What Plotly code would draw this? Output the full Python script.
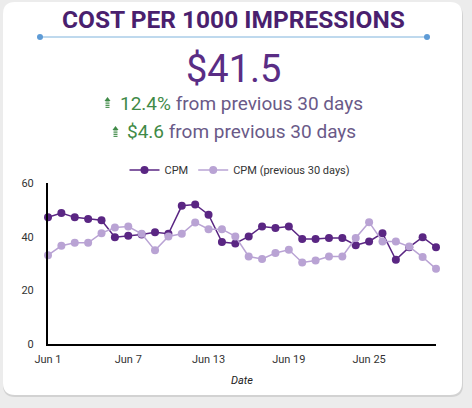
import plotly.graph_objects as go

W, H = 472, 408

# data
dates = [f"2024-06-{d:02d}" for d in range(1, 31)]
cpm = [47.2, 48.8, 47.2, 46.6, 46.1, 39.8, 40.3, 40.8, 41.6, 41.1,
       51.5, 52.0, 48.2, 38.0, 37.5, 40.1, 43.8, 43.2, 43.8, 39.1,
       39.1, 39.5, 39.5, 36.8, 38.2, 41.3, 31.4, 36.1, 39.8, 36.1]
cpm_prev = [33.1, 36.6, 37.7, 37.7, 41.3, 43.4, 43.8, 41.1, 34.9, 40.1,
            41.1, 45.3, 42.8, 42.8, 40.1, 32.6, 31.7, 33.9, 35.1, 30.4,
            31.1, 32.6, 32.6, 39.5, 45.4, 38.2, 38.2, 36.3, 32.4, 28.0]
tick_dates = dates[::6]

title = "COST PER 1000 IMPRESSIONS"
kpi = "$41.5"
pct_change = "12.4%"
abs_change = "$4.6"

DARK = "#5a2683"
LIGHT = "#b9a3d4"
GREEN = "#3f8a47"
GREYPURPLE = "#6a5a88"
FONT = "Roboto"


def px(x):
    return x / W


def py(y):
    return 1 - y / H


def rounded(x0, y0, x1, y1, r=12):
    # rounded rectangle path, pixel coords -> paper coords
    return (f"M {px(x0 + r)},{py(y0)} L {px(x1 - r)},{py(y0)} "
            f"Q {px(x1)},{py(y0)} {px(x1)},{py(y0 + r)} "
            f"L {px(x1)},{py(y1 - r)} Q {px(x1)},{py(y1)} {px(x1 - r)},{py(y1)} "
            f"L {px(x0 + r)},{py(y1)} Q {px(x0)},{py(y1)} {px(x0)},{py(y1 - r)} "
            f"L {px(x0)},{py(y0 + r)} Q {px(x0)},{py(y0)} {px(x0 + r)},{py(y0)} Z")


fig = go.Figure()
fig.add_trace(go.Scatter(x=dates, y=cpm, name="CPM", mode="lines+markers",
                         line=dict(color=DARK, width=1.5),
                         marker=dict(color=DARK, size=8), cliponaxis=False))
fig.add_trace(go.Scatter(x=dates, y=cpm_prev, name="CPM (previous 30 days)",
                         mode="lines+markers",
                         line=dict(color=LIGHT, width=1.5),
                         marker=dict(color=LIGHT, size=8), cliponaxis=False))

shapes = []
# card shadow + card
shapes.append(dict(type="path", xref="paper", yref="paper", layer="below",
                   path=rounded(3, 4, 463, 397), fillcolor="#d2d2d2", line_width=0))
shapes.append(dict(type="path", xref="paper", yref="paper", layer="below",
                   path=rounded(3, 2, 462, 395), fillcolor="white", line_width=0))
# divider under title
shapes.append(dict(type="line", xref="paper", yref="paper",
                   x0=px(40), x1=px(427), y0=py(37), y1=py(37),
                   line=dict(color="#7fb3dc", width=1)))
for cx in (40, 427):
    shapes.append(dict(type="circle", xref="paper", yref="paper",
                       x0=px(cx - 3), x1=px(cx + 3), y0=py(40), y1=py(34),
                       fillcolor="#5e9bd6", line_width=0))
# green up arrows
for ax, ay in ((107.5, 97), (115.5, 126)):
    shapes.append(dict(type="path", xref="paper", yref="paper",
                       path=f"M {px(ax - 3)},{py(ay + 4)} L {px(ax)},{py(ay)} "
                            f"L {px(ax + 3)},{py(ay + 4)} Z",
                       fillcolor=GREEN, line_width=0))
    for k in range(4):
        yy = ay + 5 + k * 1.8
        shapes.append(dict(type="line", xref="paper", yref="paper",
                           x0=px(ax - 2), x1=px(ax + 2), y0=py(yy), y1=py(yy),
                           line=dict(color=GREEN, width=1)))

annotations = [
    dict(text=f"<b>{title}</b>", x=px(233), y=py(19), font=dict(size=24.5, color="#4a1f6e")),
    dict(text=kpi, x=px(233), y=py(69), font=dict(size=38, color="#5a2d85")),
    dict(text=f"<span style='color:{GREEN}'>{pct_change}</span> from previous 30 days",
         x=px(241.5), y=py(103), font=dict(size=19, color=GREYPURPLE)),
    dict(text=f"<span style='color:{GREEN}'>{abs_change}</span> from previous 30 days",
         x=px(241.5), y=py(131), font=dict(size=19, color=GREYPURPLE)),
    dict(text="<i>Date</i>", x=px(242), y=py(380), font=dict(size=11, color="#222")),
]
for a in annotations:
    a.update(xref="paper", yref="paper", showarrow=False, xanchor="center", yanchor="middle")

fig.update_layout(
    width=W, height=H,
    margin=dict(l=0, r=0, t=0, b=0, pad=0, autoexpand=False),
    paper_bgcolor="#ececec", plot_bgcolor="white",
    font=dict(family=FONT, size=11, color="#333"),
    shapes=shapes, annotations=annotations,
    legend=dict(orientation="h", x=px(240), xanchor="center", y=py(170), yanchor="middle",
                bgcolor="rgba(0,0,0,0)", font=dict(size=11, color="#333"),
                itemwidth=30),
    xaxis=dict(domain=[px(48), px(436)], range=[dates[0], dates[-1]],
               tickvals=tick_dates, tickformat="%b %-d", showgrid=False,
               showline=True, linecolor="black", linewidth=2, zeroline=False,
               ticks="", ticklabelstandoff=4, automargin=False),
    yaxis=dict(domain=[py(344), py(183)], range=[0, 60], tickvals=[0, 20, 40, 60],
               showgrid=False, showline=True, linecolor="black", linewidth=2,
               zeroline=False, ticks="", ticklabelstandoff=10, automargin=False),
)

fig.write_html("out.html", config={"displayModeBar": False},
               post_script="document.body.style.margin='0';")
